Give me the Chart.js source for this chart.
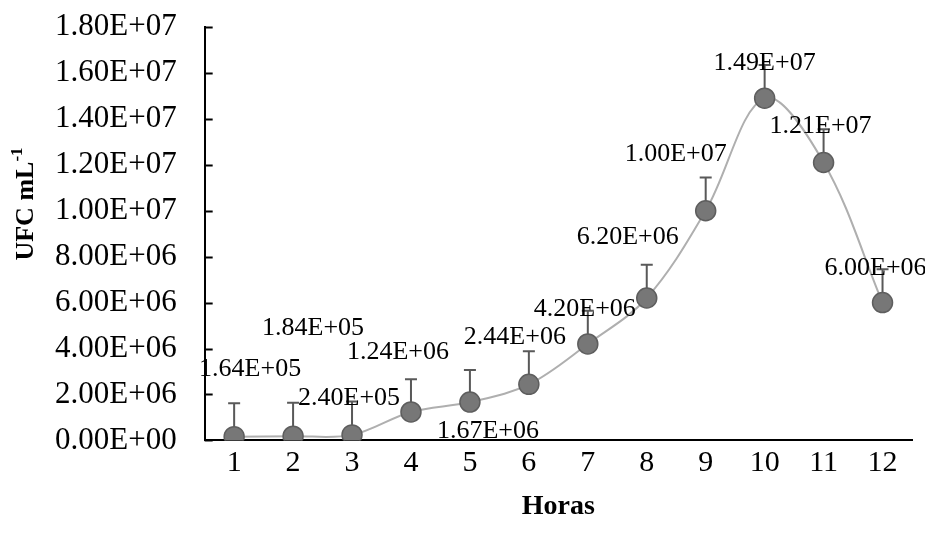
<!DOCTYPE html>
<html>
  <head>
    <meta charset="UTF-8">
    <title>UFC chart</title>
    <script src="https://cdn.jsdelivr.net/npm/chart.js@4.4.0/dist/chart.umd.min.js"></script>
    <style type="text/css">
      body { margin: 0; background: #fff; }
      #wrap { width: 925px; height: 536px; }
    </style>
  </head>
  <body>
    <div id="wrap">
      <canvas id="myChart"></canvas>
    </div>
    <script>
    var horas = ['1', '2', '3', '4', '5', '6', '7', '8', '9', '10', '11', '12'];
    var ufc = [1.64e5, 1.84e5, 2.40e5, 1.24e6, 1.67e6, 2.44e6, 4.20e6, 6.20e6, 1.00e7, 1.49e7, 1.21e7, 6.00e6];
    var erro = [1.45e6, 1.45e6, 1.45e6, 1.42e6, 1.40e6, 1.44e6, 1.45e6, 1.45e6, 1.45e6, 1.45e6, 1.45e6, 1.45e6];
    var yTicks = [0, 2e6, 4e6, 6e6, 8e6, 1e7, 1.2e7, 1.4e7, 1.6e7, 1.8e7];

    // where each value label sits, relative to its point (px)
    var labelOffsets = [[16, -67], [20, -108], [-3, -37], [-13, -60], [18, 29], [-14, -47],
                        [-3, -35], [-19, -61], [-30, -57], [0, -35], [-3, -36], [-7, -34]];

    function sci(v) {
      var s = Number(v).toExponential(2).split('e');
      var exp = parseInt(s[1], 10);
      var sign = exp < 0 ? '-' : '+';
      var e = Math.abs(exp);
      return s[0] + 'E' + sign + (e < 10 ? '0' + e : e);
    }

    var serif = '"Liberation Serif", "Times New Roman", serif';

    var extras = {
      id: 'extras',
      beforeDatasetsDraw: function(chart) {
        var ctx = chart.ctx;
        var meta = chart.getDatasetMeta(0);
        var y = chart.scales.y;
        ctx.save();
        ctx.strokeStyle = '#595959';
        ctx.lineWidth = 2;
        for (var i = 0; i < ufc.length; i++) {
          var px = meta.data[i].x;
          var top = y.getPixelForValue(ufc[i] + erro[i]);
          ctx.beginPath();
          ctx.moveTo(px, meta.data[i].y);
          ctx.lineTo(px, top);
          ctx.moveTo(px - 6, top);
          ctx.lineTo(px + 6, top);
          ctx.stroke();
        }
        ctx.restore();
      },
      afterDatasetsDraw: function(chart) {
        var ctx = chart.ctx;
        var meta = chart.getDatasetMeta(0);
        ctx.save();
        ctx.fillStyle = '#000';
        ctx.font = '26px ' + serif;
        ctx.textAlign = 'center';
        ctx.textBaseline = 'middle';
        for (var i = 0; i < ufc.length; i++) {
          var p = meta.data[i];
          ctx.fillText(sci(ufc[i]), p.x + labelOffsets[i][0], p.y + labelOffsets[i][1]);
        }
        ctx.restore();
      },
      afterDraw: function(chart) {
        var ctx = chart.ctx;
        var y = chart.scales.y;
        ctx.save();
        // inside tick marks
        ctx.strokeStyle = '#000';
        ctx.lineWidth = 2;
        y.ticks.forEach(function(t) {
          var py = Math.round(y.getPixelForValue(t.value)) + 0.5;
          ctx.beginPath();
          ctx.moveTo(y.right, py);
          ctx.lineTo(y.right + 8, py);
          ctx.stroke();
        });
        // y axis title with superscript
        ctx.translate(24, 204);
        ctx.rotate(-Math.PI / 2);
        ctx.fillStyle = '#000';
        ctx.textBaseline = 'alphabetic';
        ctx.font = 'bold 26px ' + serif;
        var main = 'UFC mL';
        var w1 = ctx.measureText(main).width;
        ctx.font = 'bold 17px ' + serif;
        var w2 = ctx.measureText('-1').width;
        var x0 = -(w1 + w2) / 2;
        ctx.font = 'bold 26px ' + serif;
        ctx.fillText(main, x0, 9);
        ctx.font = 'bold 17px ' + serif;
        ctx.fillText('-1', x0 + w1, -2);
        ctx.restore();
      }
    };

    var ctx = document.getElementById('myChart').getContext('2d');
    var chart = new Chart(ctx, {
      type: 'line',
      data: {
        labels: horas,
        datasets: [{
          label: 'UFC',
          data: ufc,
          borderColor: '#AFAFAF',
          borderWidth: 2,
          tension: 0.35,
          fill: false,
          pointRadius: 10,
          pointHoverRadius: 10,
          pointBackgroundColor: '#777777',
          pointBorderColor: '#5E5E5E',
          pointBorderWidth: 1.5
        }]
      },
      options: {
        responsive: true,
        maintainAspectRatio: false,
        animation: false,
        events: [],
        layout: { padding: { left: 27, right: 13, top: 27, bottom: 12 } },
        plugins: {
          legend: { display: false },
          tooltip: { enabled: false }
        },
        scales: {
          x: {
            offset: true,
            grid: { display: false },
            border: { color: '#000', width: 2 },
            ticks: { color: '#000', padding: 0, font: { family: serif, size: 30, lineHeight: 1.0 } },
            title: {
              display: true,
              text: 'Horas',
              color: '#000',
              padding: { top: 12, bottom: 0 },
              font: { family: serif, size: 28, weight: 'bold' }
            }
          },
          y: {
            min: 0,
            max: 1.8e7,
            afterBuildTicks: function(scale) {
              scale.ticks = yTicks.map(function(v) { return { value: v }; });
            },
            afterFit: function(scale) {
              scale.paddingTop = 0;
              scale.paddingBottom = 0;
            },
            grid: { drawOnChartArea: false, drawTicks: false },
            border: { color: '#000', width: 2 },
            ticks: {
              color: '#000',
              padding: 28,
              font: { family: serif, size: 31 },
              callback: function(v) { return sci(v); }
            }
          }
        }
      },
      plugins: [extras]
    });
    </script>
  </body>
</html>
